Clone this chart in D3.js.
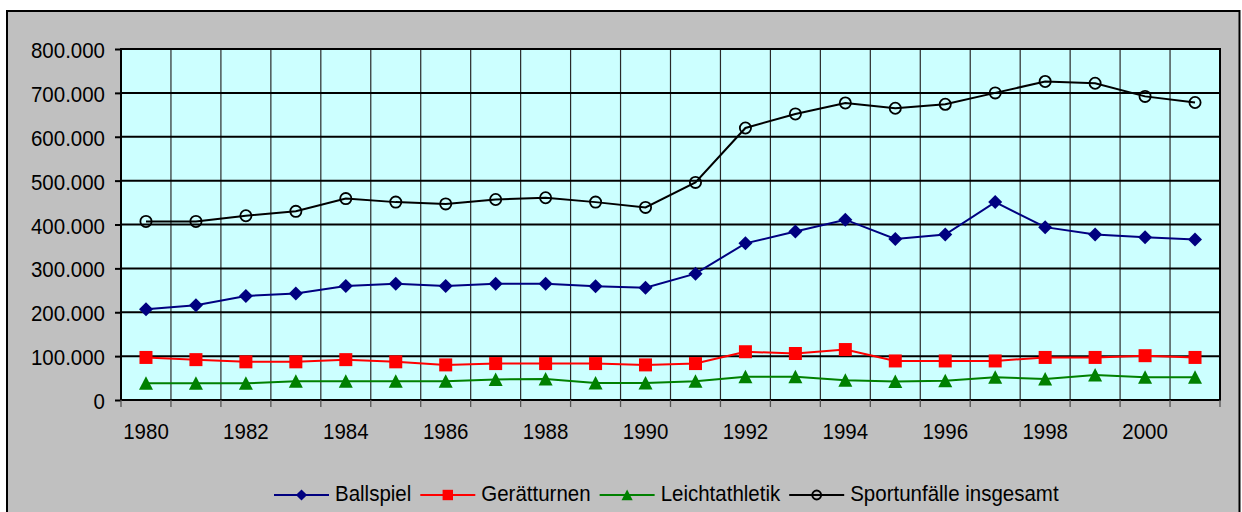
<!DOCTYPE html>
<html>
<head>
<meta charset="utf-8">
<script src="https://cdn.jsdelivr.net/npm/d3@7"></script>
<style>
  body { margin: 0; background: #fff; }
  svg text { font-family: "Liberation Sans", Arial, sans-serif; font-size: 20.5px; fill: #000; }
</style>
</head>
<body>
<div id="chart"></div>
<script>
var years = [1980, 1981, 1982, 1983, 1984, 1985, 1986, 1987, 1988, 1989, 1990,
             1991, 1992, 1993, 1994, 1995, 1996, 1997, 1998, 1999, 2000, 2001];

var ballspiel = [207000, 216000, 237000, 243000, 260000, 265000, 260000, 265000, 265000, 259000, 256000,
                 288000, 357000, 384000, 411000, 367000, 377000, 451000, 394000, 377000, 371000, 366000];
var geraetturnen = [97000, 92000, 87000, 87000, 92000, 87000, 80000, 83000, 83000, 83000, 80000,
                    83000, 110000, 106000, 115000, 89000, 89000, 89000, 97000, 97000, 101000, 97000];
var leichtathletik = [38000, 38000, 38000, 43000, 43000, 43000, 43000, 47000, 48000, 39000, 39000,
                      43000, 53000, 53000, 45000, 42000, 44000, 52000, 48000, 57000, 52000, 52000];
var insgesamt = [407000, 407000, 420000, 430000, 459000, 451000, 447000, 457000, 461000, 451000, 439000,
                 496000, 620000, 652000, 677000, 665000, 674000, 700000, 726000, 722000, 692000, 678000];

var yTicks = [0, 100000, 200000, 300000, 400000, 500000, 600000, 700000, 800000];
var xLabels = [1980, 1982, 1984, 1986, 1988, 1990, 1992, 1994, 1996, 1998, 2000];

var seriesNames = ["Ballspiel", "Gerätturnen", "Leichtathletik", "Sportunfälle insgesamt"];
var seriesColors = ["#000080", "#ff0000", "#008000", "#000000"];
var seriesMarkers = ["diamond", "square", "triangle", "circle"];

var width = 1242, height = 512;
var plotLeft = 121, plotRight = 1220, plotTop = 49, plotBottom = 400;
var textScale = 1.12;

var svg = d3.select("#chart").append("svg")
  .attr("width", width)
  .attr("height", height);

// grey chart area with black border
svg.append("rect")
  .attr("x", 7).attr("y", 11)
  .attr("width", 1232.5).attr("height", 560)
  .attr("fill", "#c0c0c0")
  .attr("stroke", "#000").attr("stroke-width", 2);

var x = d3.scaleBand().domain(years).range([plotLeft, plotRight]).padding(0);
var y = d3.scaleLinear().domain([0, 800000]).range([plotBottom, plotTop]);

var de = d3.formatLocale({ decimal: ",", thousands: ".", grouping: [3], currency: ["", " €"] });
var fmt = de.format(",");

// plot area
svg.append("rect")
  .attr("x", plotLeft).attr("y", plotTop)
  .attr("width", plotRight - plotLeft).attr("height", plotBottom - plotTop)
  .attr("fill", "#ccffff");

// vertical grid lines at category boundaries
svg.append("g").selectAll("line")
  .data(years.slice(1))
  .enter().append("line")
    .attr("x1", function(d) { return x(d); })
    .attr("x2", function(d) { return x(d); })
    .attr("y1", plotTop).attr("y2", plotBottom)
    .attr("stroke", "#2a2a2a").attr("stroke-width", 1.2);

// horizontal grid lines
svg.append("g").selectAll("line")
  .data(yTicks)
  .enter().append("line")
    .attr("x1", plotLeft).attr("x2", plotRight)
    .attr("y1", function(d) { return y(d); })
    .attr("y2", function(d) { return y(d); })
    .attr("stroke", "#000").attr("stroke-width", 2);

svg.append("rect")
  .attr("x", plotLeft).attr("y", plotTop)
  .attr("width", plotRight - plotLeft).attr("height", plotBottom - plotTop)
  .attr("fill", "none")
  .attr("stroke", "#000").attr("stroke-width", 2);

// y axis
var yAxis = svg.append("g")
  .attr("transform", "translate(" + plotLeft + ",0)")
  .call(d3.axisLeft(y).tickValues(yTicks).tickFormat(fmt).tickSize(6).tickPadding(10));
yAxis.select(".domain").remove();
yAxis.selectAll(".tick line").attr("stroke", "#000").attr("stroke-width", 2);
yAxis.selectAll(".tick text")
  .attr("dy", "0.37em")
  .attr("transform", "scale(1," + textScale + ")");

// x axis: tick marks on category boundaries, labels every second year
var boundaries = years.map(function(d) { return x(d); }).concat([plotRight]);
svg.append("g").selectAll("line")
  .data(boundaries)
  .enter().append("line")
    .attr("x1", function(d) { return d; })
    .attr("x2", function(d) { return d; })
    .attr("y1", plotBottom).attr("y2", plotBottom + 7)
    .attr("stroke", "#555").attr("stroke-width", 1.3);

var xAxis = svg.append("g")
  .attr("transform", "translate(0," + plotBottom + ")")
  .call(d3.axisBottom(x).tickValues(xLabels).tickSize(0));
xAxis.select(".domain").remove();
xAxis.selectAll(".tick text")
  .attr("y", 0).attr("dy", 0)
  .attr("transform", "translate(0,39) scale(1," + textScale + ")");

// markers
function markerPath(type, s) {
  if (type === "diamond") return "M0," + (-7 * s) + "L" + (7 * s) + ",0L0," + (7 * s) + "L" + (-7 * s) + ",0Z";
  if (type === "square") return "M" + (-6.5 * s) + "," + (-6.5 * s) + "h" + (13 * s) + "v" + (13 * s) + "h" + (-13 * s) + "Z";
  if (type === "triangle") return "M0," + (-7 * s) + "L" + (7 * s) + "," + (6.5 * s) + "L" + (-7 * s) + "," + (6.5 * s) + "Z";
  return null;
}

function drawMarker(g, type, color, s) {
  if (type === "circle") {
    g.append("circle").attr("r", 5.6 * s)
      .attr("fill", "none").attr("stroke", color).attr("stroke-width", 1.8);
  } else {
    g.append("path").attr("d", markerPath(type, s)).attr("fill", color);
  }
}

var allSeries = [ballspiel, geraetturnen, leichtathletik, insgesamt];
var cx = function(i) { return x(years[i]) + x.bandwidth() / 2; };

var line = d3.line()
  .x(function(d, i) { return cx(i); })
  .y(function(d) { return y(d); });

allSeries.forEach(function(values, k) {
  svg.append("path")
    .datum(values)
    .attr("d", line)
    .attr("fill", "none")
    .attr("stroke", seriesColors[k])
    .attr("stroke-width", 2);

  svg.append("g").selectAll("g")
    .data(values)
    .enter().append("g")
      .attr("transform", function(d, i) { return "translate(" + cx(i) + "," + y(d) + ")"; })
      .each(function() { drawMarker(d3.select(this), seriesMarkers[k], seriesColors[k], 1); });
});

// legend
var legend = svg.append("g");
var lx = 274, ly = 495;
seriesNames.forEach(function(name, k) {
  var item = legend.append("g").attr("transform", "translate(" + lx + "," + ly + ")");
  item.append("line")
    .attr("x1", 0).attr("x2", 55)
    .attr("stroke", seriesColors[k]).attr("stroke-width", 2);
  var m = item.append("g").attr("transform", "translate(27.5,0)");
  drawMarker(m, seriesMarkers[k], seriesColors[k], 0.8);
  var t = item.append("text")
    .attr("transform", "translate(61,6) scale(1," + textScale + ")")
    .text(name);
  lx += 61 + t.node().getComputedTextLength() + 9;
});
</script>
</body>
</html>
